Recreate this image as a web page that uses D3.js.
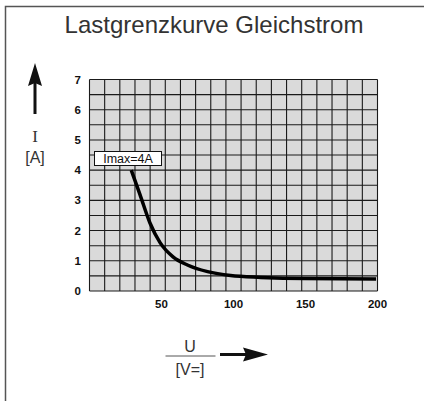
<!DOCTYPE html>
<html>
<head>
<meta charset="utf-8">
<script src="https://cdn.jsdelivr.net/npm/d3@7"></script>
<style>
  body { margin: 0; background: #fff; }
  text { font-family: "Liberation Sans", Arial, sans-serif; }
</style>
</head>
<body>
<div id="vis"></div>
<script>
// data
const VOLTAGE = [29, 35, 42, 49, 58, 68, 82, 98, 119, 150, 199];
const CURRENT = [4.0, 3.2, 2.25, 1.6, 1.13, 0.86, 0.64, 0.51, 0.45, 0.41, 0.40];
const X_TICKS = [50, 100, 150, 200];
const Y_TICKS = [0, 1, 2, 3, 4, 5, 6, 7];
const GRID_COLS = 19;
const GRID_ROWS = 14;
const TITLE = "Lastgrenzkurve Gleichstrom";
const IMAX_LABEL = "Imax=4A";

const FRAME_WIDTH = 424;
const FRAME_HEIGHT = 401;
const PLOT = {left: 89.5, right: 377.5, top: 79.5, bottom: 291};

const svg = d3.select("#vis")
  .append("svg")
    .attr("width", FRAME_WIDTH)
    .attr("height", FRAME_HEIGHT);

// outer frame (top + left only)
svg.append("path")
  .attr("d", "M5.5,401 L5.5,6.5 L424,6.5")
  .attr("fill", "none")
  .attr("stroke", "#555")
  .attr("stroke-width", 1.5);

// title
svg.append("text")
  .attr("x", 214)
  .attr("y", 33)
  .attr("text-anchor", "middle")
  .attr("font-size", "24px")
  .attr("fill", "#333")
  .text(TITLE);

const X_SCALE = d3.scaleLinear().domain([0, 200]).range([PLOT.left, PLOT.right]);
const Y_SCALE = d3.scaleLinear().domain([0, 7]).range([PLOT.bottom, PLOT.top]);
const GX = d3.scaleLinear().domain([0, GRID_COLS]).range([PLOT.left, PLOT.right]);
const GY = d3.scaleLinear().domain([0, GRID_ROWS]).range([PLOT.bottom, PLOT.top]);

// plot background
svg.append("rect")
  .attr("x", PLOT.left)
  .attr("y", PLOT.top)
  .attr("width", PLOT.right - PLOT.left)
  .attr("height", PLOT.bottom - PLOT.top)
  .attr("fill", "#dadada");

// grid
svg.append("g").selectAll("line")
  .data(d3.range(GRID_COLS + 1))
  .enter().append("line")
    .attr("x1", d => GX(d)).attr("x2", d => GX(d))
    .attr("y1", PLOT.top).attr("y2", PLOT.bottom)
    .attr("stroke", "#1a1a1a").attr("stroke-width", 1.1);

svg.append("g").selectAll("line")
  .data(d3.range(GRID_ROWS + 1))
  .enter().append("line")
    .attr("x1", PLOT.left).attr("x2", PLOT.right)
    .attr("y1", d => GY(d)).attr("y2", d => GY(d))
    .attr("stroke", "#1a1a1a").attr("stroke-width", 1.1);

// tick labels
svg.append("g").selectAll("text")
  .data(Y_TICKS)
  .enter().append("text")
    .attr("x", 81)
    .attr("y", d => Y_SCALE(d) + 4)
    .attr("text-anchor", "end")
    .attr("font-size", "11.5px")
    .attr("font-weight", "bold")
    .attr("fill", "#111")
    .text(d => d);

svg.append("g").selectAll("text")
  .data(X_TICKS)
  .enter().append("text")
    .attr("x", d => X_SCALE(d))
    .attr("y", 308)
    .attr("text-anchor", "middle")
    .attr("font-size", "11.5px")
    .attr("font-weight", "bold")
    .attr("fill", "#111")
    .text(d => d);

// curve
const points = VOLTAGE.map((v, i) => [v, CURRENT[i]]);
const line = d3.line()
  .x(d => X_SCALE(d[0]))
  .y(d => Y_SCALE(d[1]))
  .curve(d3.curveMonotoneX);

svg.append("path")
  .datum(points)
  .attr("d", line)
  .attr("fill", "none")
  .attr("stroke", "#000")
  .attr("stroke-width", 3.5);

// Imax label box
svg.append("rect")
  .attr("x", 94.5).attr("y", 151.5)
  .attr("width", 67).attr("height", 14)
  .attr("fill", "#fff")
  .attr("stroke", "#111").attr("stroke-width", 1);

svg.append("text")
  .attr("x", 128)
  .attr("y", 163)
  .attr("text-anchor", "middle")
  .attr("font-size", "12.5px")
  .attr("fill", "#111")
  .text(IMAX_LABEL);

// y axis arrow and label
svg.append("rect")
  .attr("x", 33.5).attr("y", 80).attr("width", 3).attr("height", 34)
  .attr("fill", "#111");
svg.append("path")
  .attr("d", "M35,63 L42,86 L35,83 L28,86 Z")
  .attr("fill", "#111");

svg.append("text")
  .attr("x", 35).attr("y", 142)
  .attr("text-anchor", "middle")
  .attr("font-size", "17px")
  .style("font-family", "'Liberation Serif', 'DejaVu Serif', serif")
  .attr("fill", "#333")
  .text("I");
svg.append("text")
  .attr("x", 35).attr("y", 163)
  .attr("text-anchor", "middle")
  .attr("font-size", "16px")
  .attr("fill", "#333")
  .text("[A]");

// x axis label and arrow
svg.append("text")
  .attr("x", 190).attr("y", 352)
  .attr("text-anchor", "middle")
  .attr("font-size", "16px")
  .attr("fill", "#333")
  .text("U");
svg.append("line")
  .attr("x1", 165.5).attr("x2", 215.5)
  .attr("y1", 356).attr("y2", 356)
  .attr("stroke", "#555").attr("stroke-width", 1);
svg.append("text")
  .attr("x", 190).attr("y", 375)
  .attr("text-anchor", "middle")
  .attr("font-size", "16px")
  .attr("fill", "#333")
  .text("[V=]");

svg.append("rect")
  .attr("x", 220).attr("y", 353).attr("width", 26).attr("height", 3)
  .attr("fill", "#111");
svg.append("path")
  .attr("d", "M268,354.5 L243,347.5 L246,354.5 L243,361.5 Z")
  .attr("fill", "#111");
</script>
</body>
</html>
